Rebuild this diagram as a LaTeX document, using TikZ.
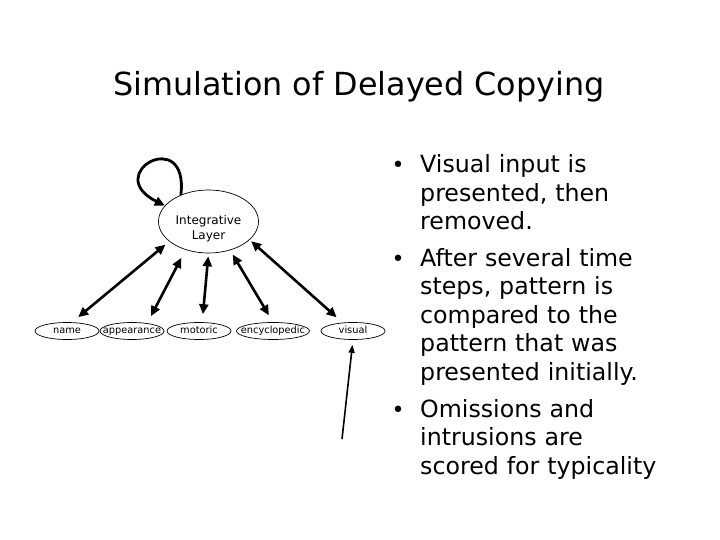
\documentclass[tikz,border=0pt]{standalone}
\usepackage{fontspec}
\setmainfont{DejaVu Sans}
\usepackage{tikz}
\usetikzlibrary{arrows.meta, shapes.geometric}

\begin{document}
\begin{tikzpicture}[
  x=1pt, y=1pt,
  unit/.style  = {ellipse, draw=black, line width=0.7pt, inner xsep=-12pt,
                  inner ysep=0pt, text height=7pt, text depth=2pt,
                  minimum width=64pt, minimum height=17pt,
                  font=\fontsize{9.8}{11}\selectfont},
  hub/.style   = {ellipse, draw=black, line width=0.7pt, inner sep=0pt,
                  minimum width=100pt, minimum height=63pt},
  hubtxt/.style= {align=center, inner sep=0pt, font=\fontsize{12}{15}\selectfont},
  link/.style  = {{Triangle[length=10pt,width=9pt]}-{Triangle[length=10pt,width=9pt]},
                  line width=2.6pt, shorten <=5pt, shorten >=8pt},
  feed/.style  = {-{Triangle[length=8pt,width=6pt]}, line width=1.6pt,
                  shorten >=5pt},
  loopy/.style = {-{Triangle[length=10pt,width=9pt]}, line width=2.8pt},
  itemtxt/.style = {anchor=base west, inner sep=0pt, text width=290pt,
                  align=left, font=\fontsize{23.7}{28.5}\selectfont},
  bul/.style   = {anchor=base, inner sep=0pt, font=\fontsize{22}{28.5}\selectfont},
]
\useasboundingbox (0,0) rectangle (720,-540);

%% ── Title ────────────────────────────────────────────────────────────────
\node[anchor=base, font=\fontsize{31.8}{38}\selectfont] (title) at (359,-96)
  {Simulation of Delayed Copying};

%% ── Integrative layer and the five unit groups ──────────────────────────
\node[hub] (intl) at (208.5,-221.5) {};
\node[hubtxt] (intltxt) at ([yshift=-7pt]intl.center) {Integrative\\Layer};

\node[unit]                      (name)  at (67,-331)  {name};
\node[unit]                      (appr)  at (132,-331) {appearance};
\node[unit]                      (motor) at (199,-331) {motoric};
\node[unit, minimum width=73pt]  (ency)  at (273,-331) {encyclopedic};
\node[unit]                      (vis)   at (353,-331) {visual};
\coordinate (vin) at (342,-439);

%% ── Connections ──────────────────────────────────────────────────────────
\draw[loopy] (intl.136) .. controls +(8,70) and +(-64,32) .. (intl.160);
\draw[link] (intl.207) -- (name.60);
\draw[link, shorten <=9pt] (intl.231) -- (appr.27);
\draw[link, shorten <=3pt] (intl.270) -- (motor.70);
\draw[link] (intl.307) -- (ency.north);
\draw[link, shorten <=2pt] (intl.336) -- (vis.141);
\draw[feed] (vin) -- (vis.south);

%% ── Bullet text ──────────────────────────────────────────────────────────
\node[bul] (d1) at (398,-173) {\textbullet};
\node[itemtxt] (it1) at (420,-173) {Visual input is\\presented, then\\removed.};
\node[bul] (d2) at (398,-266) {\textbullet};
\node[itemtxt] (it2) at (420,-266) {After several time\\steps, pattern is\\compared to the\\pattern that was\\presented initially.};
\node[bul] (d3) at (398,-417) {\textbullet};
\node[itemtxt] (it3) at (420,-417) {Omissions and\\intrusions are\\scored for typicality};

\end{tikzpicture}
\end{document}
